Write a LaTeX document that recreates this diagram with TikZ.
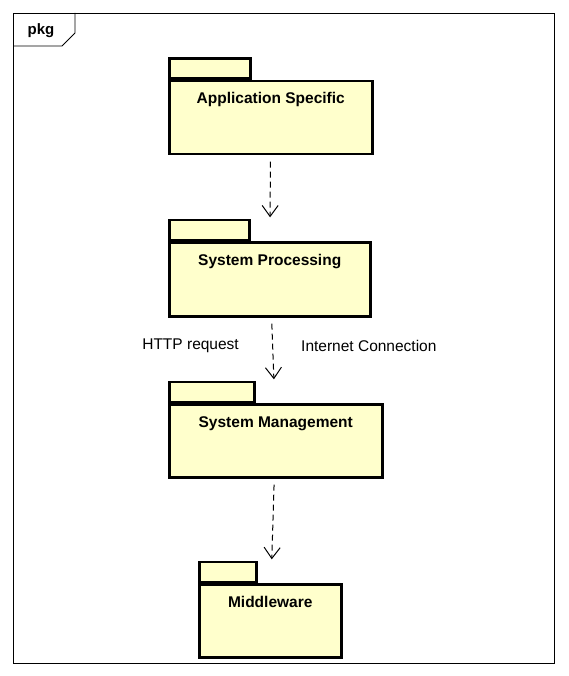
\documentclass[tikz,border=0pt]{standalone}
\usepackage{fontspec}
\setmainfont{Liberation Sans}
\usepackage{tikz}
\usetikzlibrary{arrows.meta,positioning,fit}
\definecolor{pkgyellow}{RGB}{255,255,204}

\begin{document}
\begin{tikzpicture}[x=1pt, y=-1pt,
    pkgbody/.style={draw, line width=2.5pt, fill=pkgyellow, inner sep=0pt, anchor=north west, minimum height=73pt},
    pkgtab/.style={draw, line width=2.5pt, fill=pkgyellow, inner sep=0pt, minimum height=20pt},
    pkgname/.style={font=\fontsize{15.5}{18}\selectfont\bfseries, inner sep=0pt, anchor=base},
    pkgbox/.style={inner sep=0pt},
    dep/.style={dash pattern=on 6pt off 4pt, line width=1pt, -{Straight Barb[length=11pt,width=16pt]}, shorten >=1pt, shorten <=6pt},
    deplabel/.style={font=\fontsize{15.5}{18}\selectfont, inner sep=0pt}]

    \useasboundingbox (0,0) rectangle (568,676);

    % frame
    \draw[line width=0.8pt] (13,13) rectangle (554,663);
    \draw[line width=0.8pt] (13,46) -- (62,46) -- (75,33) -- (75,13);
    \node[font=\fontsize{15}{18}\selectfont\bfseries, inner sep=0pt, anchor=base] (pkglabel) at (41,35) {pkg};

    \node[pkgbody, minimum width=203pt] (appspec) at (168,80) {};
    \node[pkgtab, minimum width=81pt, above right=0pt and 0pt of appspec.north west] (appspectab) {};
    \node[pkgname] (appspectext) at ([yshift=-24pt]appspec.north) {Application Specific};

    \node[pkgbody, minimum width=201pt, minimum height=74pt] (sysproc) at (168,241) {};
    \node[pkgtab, minimum width=80pt, above right=0pt and 0pt of sysproc.north west] (sysproctab) {};
    \node[pkgname] (sysproctext) at ([yshift=-24pt]sysproc.north) {System Processing};

    \node[pkgbody, minimum width=213pt] (sysmgmt) at (168,403) {};
    \node[pkgtab, minimum width=85pt, above right=0pt and 0pt of sysmgmt.north west] (sysmgmttab) {};
    \node[pkgname] (sysmgmttext) at ([yshift=-24pt]sysmgmt.north) {System Management};

    \node[pkgbody, minimum width=142pt] (middleware) at (198,583) {};
    \node[pkgtab, minimum width=57pt, above right=0pt and 0pt of middleware.north west] (middlewaretab) {};
    \node[pkgname] (middlewaretext) at ([yshift=-24pt]middleware.north) {Middleware};

    \node[pkgbox, fit=(appspectab)(appspec)] (appspecpkg) {};
    \node[pkgbox, fit=(sysproctab)(sysproc)] (sysprocpkg) {};
    \node[pkgbox, fit=(sysmgmttab)(sysmgmt)] (sysmgmtpkg) {};
    \node[pkgbox, fit=(middlewaretab)(middleware)] (middlewarepkg) {};

    \draw[dep] (appspecpkg) -- (sysprocpkg);
    \draw[dep] (sysprocpkg) -- (sysmgmtpkg);
    \draw[dep] (sysmgmtpkg) -- (middlewarepkg);

    \node[deplabel, anchor=east] (httplabel) at (239,346) {HTTP request};
    \node[deplabel, anchor=west] (netlabel) at (301,346) {Internet Connection};

\end{tikzpicture}
\end{document}
